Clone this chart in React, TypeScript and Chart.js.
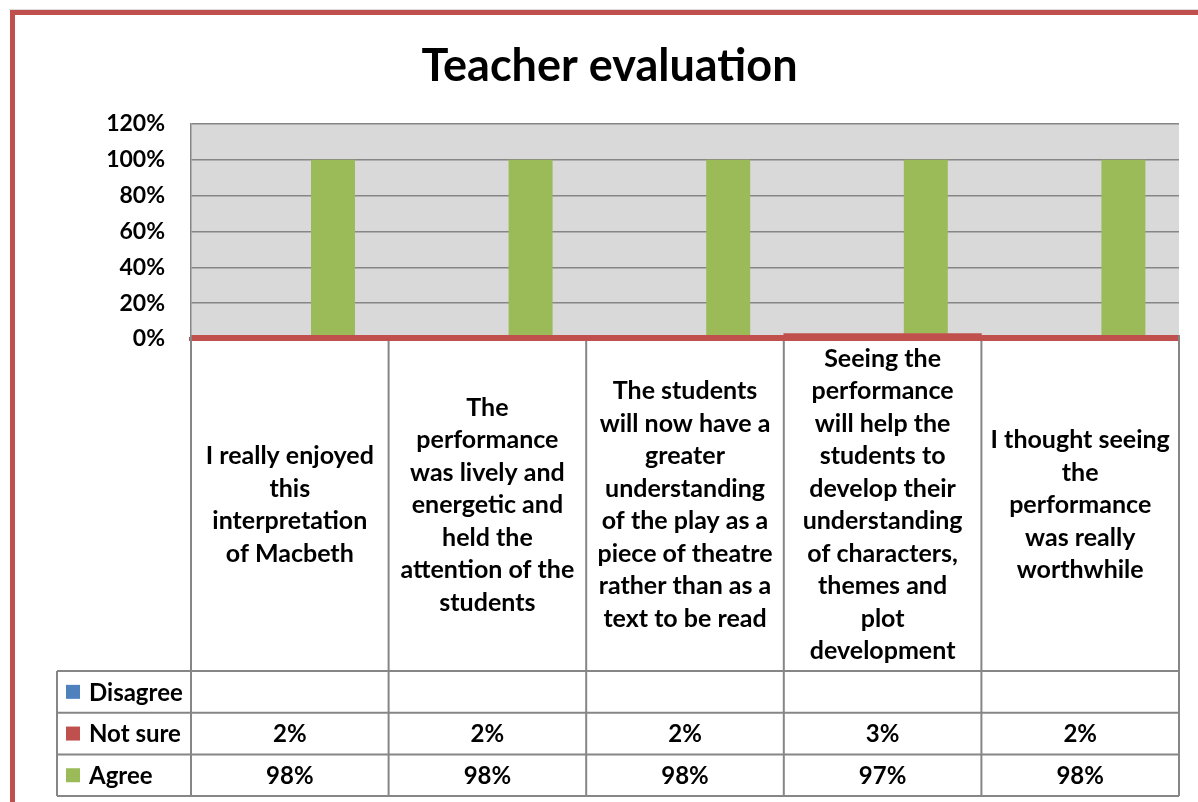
import React, { useEffect, useRef } from 'react';
import { Chart, registerables } from 'chart.js';

Chart.register(...registerables);

const chartTitle = 'Teacher evaluation';

const categories: string[][] = [
  ['I really enjoyed', 'this', 'interpretation', 'of Macbeth'],
  ['The', 'performance', 'was lively and', 'energetic and', 'held the', 'attention of the', 'students'],
  ['The students', 'will now have a', 'greater', 'understanding', 'of the play as a', 'piece of theatre', 'rather than as a', 'text to be read'],
  ['Seeing the', 'performance', 'will help the', 'students to', 'develop their', 'understanding', 'of characters,', 'themes and', 'plot', 'development'],
  ['I thought seeing', 'the', 'performance', 'was really', 'worthwhile'],
];

const seriesNames = ['Disagree', 'Not sure', 'Agree'];
const disagree: (number | null)[] = [null, null, null, null, null];
const notSure: number[] = [2, 2, 2, 3, 2];
const agree: number[] = [98, 98, 98, 97, 98];

const yMin = 0;
const yMax = 120;
const yStep = 20;

const seriesColors = ['#4f81bd', '#c0504d', '#9bbb59'];

const FONT = 'Lato';
const GRID = '#868686';

const tableRows = [
  { name: seriesNames[0], color: seriesColors[0], values: disagree },
  { name: seriesNames[1], color: seriesColors[1], values: notSure },
  { name: seriesNames[2], color: seriesColors[2], values: agree },
];

const framePlugin = {
  id: 'framePlugin',
  beforeDraw(chart: any) {
    const { ctx, chartArea: a } = chart;
    ctx.save();
    ctx.fillStyle = '#ffffff';
    ctx.fillRect(0, 0, chart.width, chart.height);
    ctx.fillStyle = '#dcdcdc';
    ctx.fillRect(9, 9, chart.width - 9, 1);
    ctx.fillStyle = '#c0504d';
    ctx.fillRect(10, 10, chart.width - 10, 5);
    ctx.fillRect(10, 10, 5, chart.height - 10);
    ctx.fillStyle = '#d9d9d9';
    ctx.fillRect(a.left, a.top, a.right - a.left, a.bottom - a.top);
    ctx.restore();
  },
  afterDraw(chart: any) {
    const { ctx, chartArea: a } = chart;
    const xs = chart.scales.x;
    const n = categories.length;
    const colW = (a.right - a.left) / n;
    const headerBottom = 671;
    const rowH = 41.7;
    const tableBottom = headerBottom + rowH * tableRows.length;
    const legendLeft = 57;

    ctx.save();
    ctx.strokeStyle = GRID;
    ctx.lineWidth = 2;
    ctx.beginPath();
    for (let k = 0; k <= n; k++) {
      const x = a.left + k * colW;
      ctx.moveTo(x, a.bottom + (k === 0 || k === n ? -4 : 2));
      ctx.lineTo(x, tableBottom);
    }
    ctx.moveTo(legendLeft, headerBottom);
    ctx.lineTo(legendLeft, tableBottom);
    for (let r = 0; r <= tableRows.length; r++) {
      const y = headerBottom + r * rowH;
      ctx.moveTo(legendLeft, y);
      ctx.lineTo(a.right, y);
    }
    ctx.stroke();

    ctx.fillStyle = '#000';
    ctx.textAlign = 'center';
    ctx.textBaseline = 'middle';
    ctx.font = `bold 25px ${FONT}`;
    const lineH = 32.5;
    const headCy = (a.bottom + headerBottom) / 2;
    categories.forEach((lines, i) => {
      const cx = xs.getPixelForValue(i);
      const y0 = headCy - ((lines.length - 1) / 2) * lineH;
      lines.forEach((t, j) => ctx.fillText(t, cx, y0 + j * lineH));
    });

    ctx.font = `bold 24px ${FONT}`;
    tableRows.forEach((row, r) => {
      const cy = headerBottom + r * rowH + rowH / 2;
      ctx.fillStyle = row.color;
      ctx.fillRect(66, cy - 7, 14, 14);
      ctx.fillStyle = '#000';
      ctx.textAlign = 'left';
      ctx.fillText(row.name, 89, cy + 1);
      ctx.textAlign = 'center';
      row.values.forEach((v, i) => {
        if (v === null || v === undefined) return;
        ctx.fillText(`${v}%`, xs.getPixelForValue(i), cy + 1);
      });
    });
    ctx.restore();
  },
};

export default function App() {
  const ref = useRef<HTMLCanvasElement | null>(null);

  useEffect(() => {
    if (!ref.current) return;
    const labels = categories.map((c) => c.join(' '));
    const chart = new Chart(ref.current, {
      type: 'bar',
      data: {
        labels,
        datasets: [
          {
            label: seriesNames[0],
            data: disagree,
            backgroundColor: seriesColors[0],
            categoryPercentage: 0.8745,
            barPercentage: 0.509,
          },
          {
            label: seriesNames[1],
            data: notSure,
            backgroundColor: seriesColors[1],
            grouped: false,
            categoryPercentage: 1,
            barPercentage: 1,
          },
          {
            label: seriesNames[2],
            data: agree.map((v, i) => [notSure[i], notSure[i] + v]),
            backgroundColor: seriesColors[2],
            categoryPercentage: 0.8745,
            barPercentage: 0.509,
          },
        ] as any,
      },
      options: {
        responsive: false,
        animation: false,
        layout: { padding: { left: 40, right: 19, top: 0, bottom: 0 } },
        plugins: {
          legend: { display: false },
          tooltip: { enabled: false },
          title: {
            display: true,
            text: chartTitle,
            color: '#000',
            font: { family: FONT, size: 45, weight: 'bold' },
            padding: { top: 39, bottom: 31 },
          },
        },
        scales: {
          x: {
            type: 'category',
            offset: true,
            grid: { display: false },
            ticks: { display: false },
            border: { display: true, color: seriesColors[1], width: 4 },
            afterFit: (s: any) => {
              s.height = 463;
            },
          },
          y: {
            min: yMin,
            max: yMax,
            ticks: {
              stepSize: yStep,
              padding: 26,
              color: '#000',
              font: { family: FONT, size: 23, weight: 'bold' },
              callback: (v: any) => `${v}%`,
            },
            grid: { color: GRID, lineWidth: 1.5, drawTicks: false },
            border: { display: true, color: GRID, width: 1.5 },
            afterFit: (s: any) => {
              s.width = 151;
            },
          },
        } as any,
      },
      plugins: [framePlugin],
    });
    return () => chart.destroy();
  }, []);

  return (
    <div style={{ position: 'fixed', left: 0, top: 0, width: 1198, height: 802 }}>
      <canvas ref={ref} width={1198} height={802} style={{ width: 1198, height: 802, display: 'block' }} />
    </div>
  );
}
